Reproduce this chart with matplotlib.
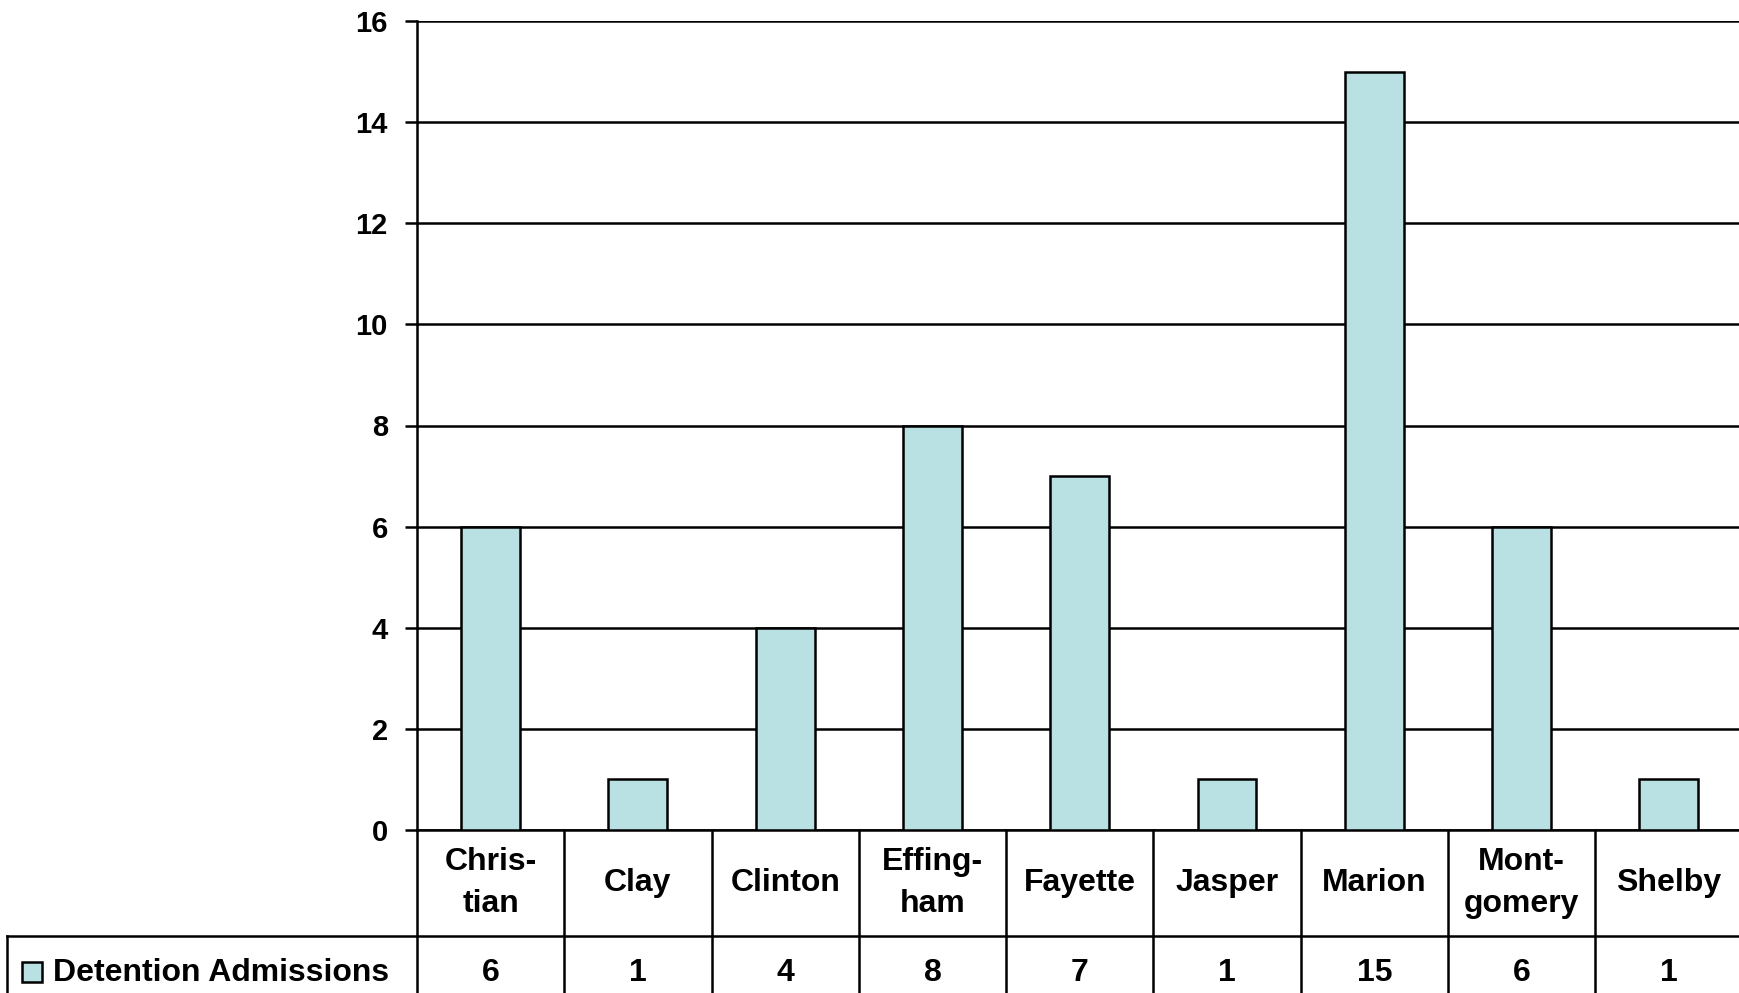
import matplotlib
matplotlib.use("Agg")
import matplotlib.pyplot as plt
import matplotlib.transforms as mtransforms
from matplotlib.patches import Rectangle

categories = ["Chris-\ntian", "Clay", "Clinton", "Effing-\nham", "Fayette",
              "Jasper", "Marion", "Mont-\ngomery", "Shelby"]
values = [6, 1, 4, 8, 7, 1, 15, 6, 1]
series_name = "Detention Admissions"
yticks = [0, 2, 4, 6, 8, 10, 12, 14, 16]

plt.rcParams['font.family'] = ['Liberation Sans', 'DejaVu Sans']
plt.rcParams['font.weight'] = 'bold'

W, H = 1739, 993
fig = plt.figure(figsize=(W / 100, H / 100), dpi=100)
left_px, top_px, zero_px = 417, 21, 830
ax = fig.add_axes([left_px / W, 1 - zero_px / H, 1 - left_px / W + 0.002, (zero_px - top_px) / H])

bar_color = "#B9E0E3"
lw = 1.8
x = list(range(len(categories)))
ax.bar(x, values, width=0.4, color=bar_color, edgecolor="black", linewidth=lw, zorder=3)

ax.set_xlim(-0.5, len(categories) - 0.5)
ax.set_ylim(0, 16)
ax.set_yticks(yticks)
ax.set_yticklabels([str(t) for t in yticks], fontsize=21, fontweight='bold')
ax.set_xticks([])
ax.yaxis.grid(True, color="black", linewidth=lw, zorder=0)
ax.set_axisbelow(True)
for s in ["top", "right"]:
    ax.spines[s].set_visible(False)
ax.spines["left"].set_linewidth(lw)
ax.spines["bottom"].set_linewidth(lw)
ax.tick_params(axis='y', length=9, width=lw, pad=12, direction='out')


def fy(py):
    return -(py - zero_px) / (zero_px - top_px)


trans = mtransforms.blended_transform_factory(ax.transData, ax.transAxes)
row1_bot = fy(936)
fig_bot = fy(H + 5)
legend_left = (8 - left_px) / ((W - left_px) / len(categories)) - 0.5

for i in range(len(categories) + 1):
    xb = i - 0.5
    ax.plot([xb, xb], [0, fig_bot], transform=trans, color="black", lw=lw, clip_on=False)
ax.plot([legend_left, len(categories)], [row1_bot, row1_bot], transform=trans,
        color="black", lw=lw, clip_on=False)
ax.plot([legend_left, legend_left], [row1_bot, fig_bot], transform=trans,
        color="black", lw=lw, clip_on=False)

hdr_y = fy(883)
val_y = fy(973)
tfs = 23
for i, (c, v) in enumerate(zip(categories, values)):
    ax.text(i, hdr_y, c, transform=trans, ha="center", va="center",
            fontsize=tfs, fontweight="bold", linespacing=1.5)
    ax.text(i, val_y, str(v), transform=trans, ha="center", va="center",
            fontsize=tfs, fontweight="bold")

fig.patches.append(Rectangle((22 / W, 1 - 982 / H), 20 / W, 20 / H, transform=fig.transFigure,
                             facecolor=bar_color, edgecolor="black", linewidth=lw))
fig.text(53 / W, 1 - 973 / H, series_name, ha="left", va="center",
         fontsize=tfs, fontweight="bold")

fig.savefig("out.png", dpi=100)
